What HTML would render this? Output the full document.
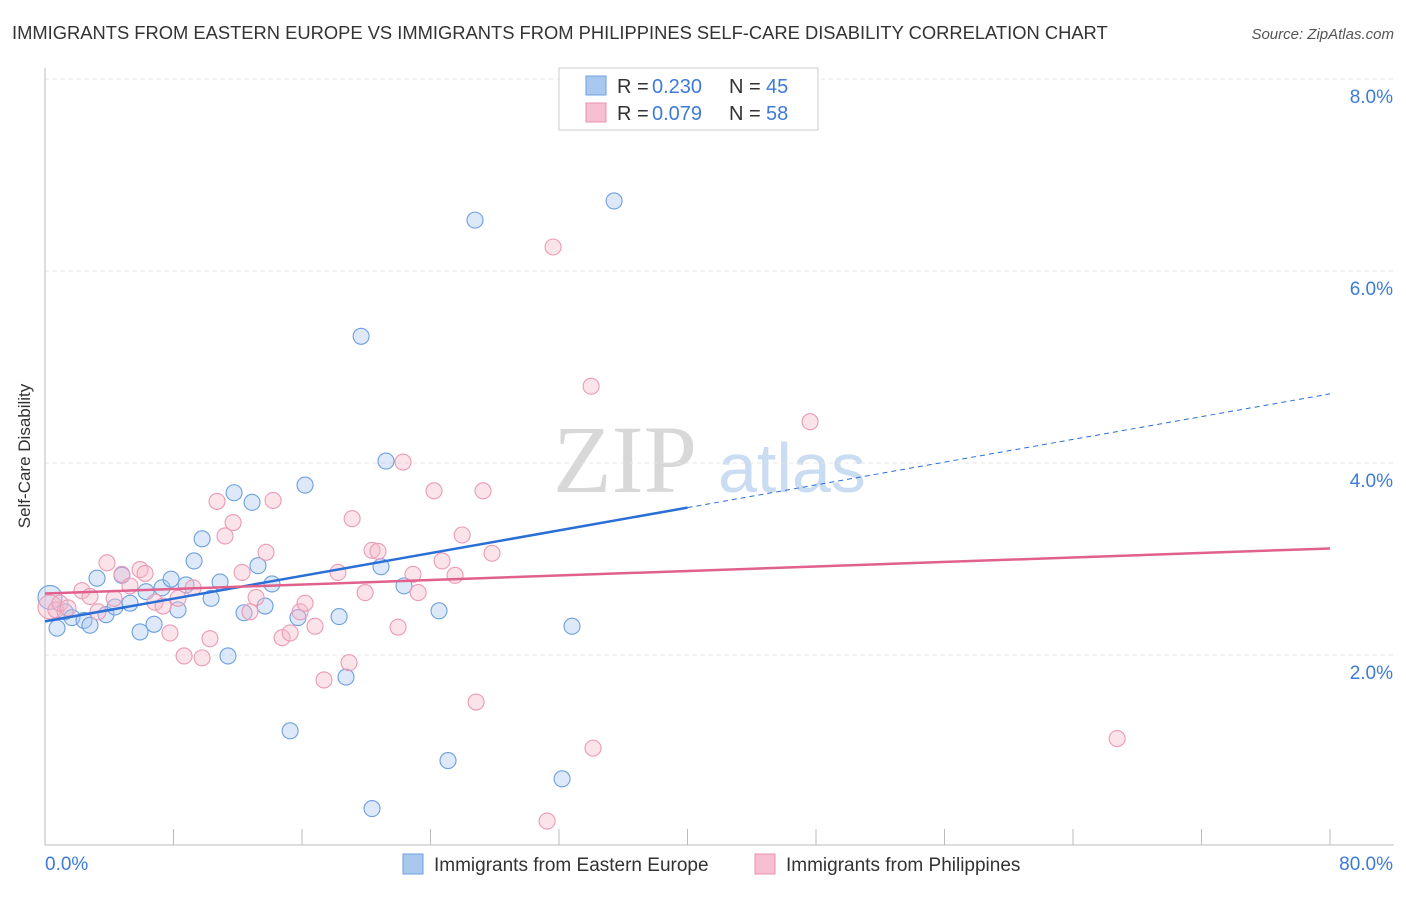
<!DOCTYPE html>
<html><head><meta charset="utf-8"><style>
body{margin:0;background:#fff;font-family:"Liberation Sans",sans-serif;}
</style></head><body>
<svg id="chart" width="1406" height="892" xmlns="http://www.w3.org/2000/svg">
<text x="12" y="39" font-size="18.35" fill="#333">IMMIGRANTS FROM EASTERN EUROPE VS IMMIGRANTS FROM PHILIPPINES SELF-CARE DISABILITY CORRELATION CHART</text>
<text x="1394" y="39" font-size="15" fill="#555" font-style="italic" text-anchor="end">Source: ZipAtlas.com</text>
<g>
<text x="553" y="492" font-family="Liberation Serif,serif" font-size="96" fill="#d8d8d8">ZIP</text>
<text x="718" y="492" font-size="70" fill="#c9dcf2">atlas</text>
</g>
<g id="grid"></g>
<g id="axes"></g>
<g id="points"></g>
<g id="trends"></g>
<text x="30" y="456" font-size="17" fill="#333" transform="rotate(-90 30 456)" text-anchor="middle">Self-Care Disability</text>
<g>
<rect x="559" y="68" width="259" height="62" fill="#fff" stroke="#ccc"/>
<rect x="586" y="76" width="20" height="19" fill="#a9c8f0" stroke="#6d9fe0"/>
<text x="617" y="93" font-size="20" fill="#333">R =</text>
<text x="652" y="93" font-size="20" fill="#3d7bd9">0.230</text>
<text x="729" y="93" font-size="20" fill="#333">N =</text>
<text x="766" y="93" font-size="20" fill="#3d7bd9">45</text>
<rect x="586" y="103" width="20" height="19" fill="#f7c0d2" stroke="#e890ad"/>
<text x="617" y="120" font-size="20" fill="#333">R =</text>
<text x="652" y="120" font-size="20" fill="#3d7bd9">0.079</text>
<text x="729" y="120" font-size="20" fill="#333">N =</text>
<text x="766" y="120" font-size="20" fill="#3d7bd9">58</text>
</g>
<g>
<rect x="403" y="854" width="20" height="20" fill="#a9c8f0" stroke="#6d9fe0"/>
<text x="434" y="871" font-size="19" fill="#333">Immigrants from Eastern Europe</text>
<rect x="755" y="854" width="20" height="20" fill="#f7c0d2" stroke="#e890ad"/>
<text x="786" y="871" font-size="19" fill="#333">Immigrants from Philippines</text>
</g>
</svg>
<script>
const yTicks=[2,4,6,8];
const blueX=[0.31,0.75,1.25,1.68,2.43,2.80,3.24,3.80,4.36,4.79,5.29,5.92,6.29,6.79,7.29,7.85,8.28,8.78,9.28,9.78,10.34,10.90,11.39,11.77,12.39,12.89,13.26,13.70,14.13,15.26,15.75,16.19,18.31,18.74,19.68,20.36,20.92,21.23,22.35,24.53,25.09,26.77,32.19,32.81,35.43];
const blueY=[2.60,2.28,2.45,2.39,2.36,2.31,2.80,2.42,2.50,2.83,2.54,2.24,2.66,2.32,2.70,2.79,2.47,2.73,2.98,3.21,2.59,2.76,1.99,3.69,2.44,3.59,2.93,2.51,2.74,1.21,2.39,3.77,2.40,1.77,5.32,0.40,2.92,4.02,2.72,2.46,0.90,6.53,0.71,2.30,6.73];
const pinkX=[0.31,0.68,0.93,1.43,2.30,2.80,3.30,3.86,4.30,4.79,5.29,5.92,6.23,6.85,7.35,7.78,8.28,8.66,9.22,9.78,10.27,10.71,11.21,11.71,12.27,12.76,13.14,13.76,14.20,14.76,15.26,15.88,16.19,16.81,17.37,18.24,18.93,19.12,19.93,20.36,20.73,21.98,22.29,22.91,23.23,24.22,24.72,25.53,25.97,26.84,27.27,27.83,31.26,31.63,34.00,34.12,47.63,66.75];
const pinkY=[2.50,2.47,2.54,2.49,2.67,2.61,2.45,2.96,2.59,2.84,2.72,2.89,2.85,2.55,2.51,2.23,2.59,1.99,2.70,1.97,2.17,3.60,3.24,3.38,2.86,2.45,2.60,3.07,3.61,2.18,2.23,2.45,2.54,2.30,1.74,2.86,1.92,3.42,2.65,3.09,3.08,2.29,4.01,2.84,2.65,3.71,2.98,2.83,3.25,1.51,3.71,3.06,0.27,6.25,4.80,1.03,4.43,1.13];
const blueTrend=[2.35,4.72];
const pinkTrend=[2.64,3.11];
const NS="http://www.w3.org/2000/svg";
const sx=v=>45+v/80*1285;
const sy=v=>847-v*96;
function mk(parent,tag,attrs){const e=document.createElementNS(NS,tag);for(const k in attrs)e.setAttribute(k,attrs[k]);document.getElementById(parent).appendChild(e);return e;}
yTicks.forEach(t=>{
 const g=mk('grid','line',{x1:45,x2:1394,y1:sy(t),y2:sy(t),stroke:'#e4e4e4','stroke-dasharray':'4,4'});
 
 
 const l=mk('grid','text',{x:1393,y:sy(t)+24,'font-size':19,fill:'#3d7bd9','text-anchor':'end'});
 l.textContent=t.toFixed(1)+'%';
 
 
});
const ax=mk('axes','line',{x1:45,x2:45,y1:68,y2:845,stroke:'#bbb'});


const bx=mk('axes','line',{x1:45,x2:1394,y1:845,y2:845,stroke:'#bbb'});


for(let i=0;i<=10;i++){const t=mk('axes','line',{x1:sx(i*8),x2:sx(i*8),y1:829,y2:845,stroke:'#bbb'});
 
 }
const xl0=mk('axes','text',{x:45,y:870,'font-size':19,fill:'#3d7bd9'});xl0.textContent='0.0%';


const xl1=mk('axes','text',{x:1393,y:870,'font-size':19,fill:'#3d7bd9','text-anchor':'end'});xl1.textContent='80.0%';


function pts(xs,ys,fill,stroke,name){xs.forEach((x,i)=>{const r=i===0?12:8;
 const c=mk('points','circle',{cx:sx(x),cy:sy(ys[i]),r:r,fill:fill,'fill-opacity':0.4,stroke:stroke,'stroke-width':1.1});
 
 });}
pts(blueX,blueY,'#a9c8f0','#6d9fe0','point-eastern-europe');
pts(pinkX,pinkY,'#f5b8cb','#eb9ab5','point-philippines');
const bt=v=>blueTrend[0]+(blueTrend[1]-blueTrend[0])*v/80;
const l1=mk('trends','line',{x1:sx(0),y1:sy(bt(0)),x2:sx(40),y2:sy(bt(40)),stroke:'#2a6fd6','stroke-width':2.5});


const l2=mk('trends','line',{x1:sx(40),y1:sy(bt(40)),x2:sx(80),y2:sy(bt(80)),stroke:'#2a6fd6','stroke-width':1,'stroke-dasharray':'5,4'});


const l3=mk('trends','line',{x1:sx(0),y1:sy(pinkTrend[0]),x2:sx(80),y2:sy(pinkTrend[1]),stroke:'#e0608e','stroke-width':2.5});


</script>
</body></html>
